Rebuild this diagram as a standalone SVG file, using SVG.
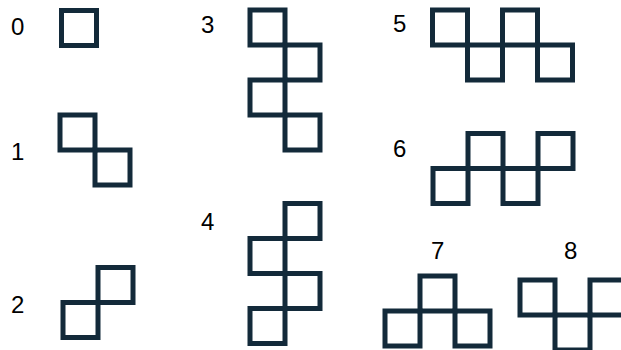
<svg xmlns="http://www.w3.org/2000/svg" width="621" height="350" viewBox="0 0 621 350">
<style>
.c{fill:none;stroke:#132a3a;stroke-width:5}
.t{font-family:"Liberation Sans",Arial,sans-serif;font-size:24px;fill:#000}
</style>
<defs><rect id="sq" class="c" width="35" height="35"/></defs>
<rect width="621" height="350" fill="#fff"/>
<g id="n0"><text class="t" x="11" y="35">0</text><use href="#sq" x="61.5" y="10.5"/></g>
<g id="n1"><text class="t" x="11" y="160">1</text><use href="#sq" x="60" y="115"/><use href="#sq" x="95" y="150"/></g>
<g id="n2"><text class="t" x="11" y="313">2</text><use href="#sq" x="98" y="267.5"/><use href="#sq" x="63" y="302.5"/></g>
<g id="n3"><text class="t" x="201" y="33">3</text><use href="#sq" x="250" y="10"/><use href="#sq" x="285" y="45"/><use href="#sq" x="250" y="80"/><use href="#sq" x="285" y="115"/></g>
<g id="n4"><text class="t" x="201" y="230">4</text><use href="#sq" x="285" y="203.5"/><use href="#sq" x="250" y="238.5"/><use href="#sq" x="285" y="273.5"/><use href="#sq" x="250" y="308.5"/></g>
<g id="n5"><text class="t" x="393" y="32">5</text><use href="#sq" x="432.5" y="10"/><use href="#sq" x="467.5" y="45"/><use href="#sq" x="502.5" y="10"/><use href="#sq" x="537.5" y="45"/></g>
<g id="n6"><text class="t" x="393" y="157">6</text><use href="#sq" x="433" y="168.5"/><use href="#sq" x="468" y="133.5"/><use href="#sq" x="503" y="168.5"/><use href="#sq" x="538" y="133.5"/></g>
<g id="n7"><text class="t" x="431" y="259">7</text><use href="#sq" x="420" y="276"/><use href="#sq" x="385" y="311"/><use href="#sq" x="455" y="311"/></g>
<g id="n8"><text class="t" x="564" y="259">8</text><use href="#sq" x="520" y="280"/><use href="#sq" x="555" y="315"/><use href="#sq" x="590" y="280"/></g>
<g id="connectors"/>
</svg>
